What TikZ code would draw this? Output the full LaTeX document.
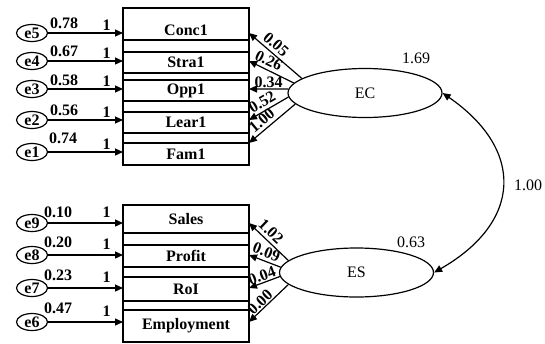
\documentclass[tikz,border=0pt]{standalone}
\usepackage{fontspec}
\setmainfont{Liberation Serif}
\usepackage{tikz}
\usetikzlibrary{fit, arrows.meta, shapes.geometric, positioning}
\tikzstyle{indicator} = [rectangle, draw=black, minimum width=126pt, inner sep=0, outer sep=0, font=\fontsize{16}{19}\selectfont\bfseries]
\tikzstyle{frame} = [rectangle, draw=black, inner sep=0, outer sep=0]
\tikzstyle{error} = [ellipse, draw=black, minimum width=31pt, minimum height=17pt, inner sep=0, font=\fontsize{16}{19}\selectfont\bfseries]
\tikzstyle{latent} = [ellipse, draw=black, minimum width=154pt, minimum height=49pt, inner sep=0]
\tikzstyle{regress} = [-{Triangle[length=8pt, width=7pt]}]
\tikzstyle{fixone} = [pos=0.78, above, inner sep=2pt, font=\fontsize{16}{19}\selectfont\bfseries]
\tikzstyle{errvar} = [font=\fontsize{16}{19}\selectfont\bfseries]
\tikzstyle{loading} = [sloped, above, inner sep=3pt, font=\fontsize{16}{19}\selectfont\bfseries]

\begin{document}
\begin{tikzpicture}[x=1pt, y=-1pt, font=\fontsize{16}{19}\selectfont, line width=1.2pt]
				\useasboundingbox (0, 0) rectangle (545, 343);

				% EC indicators
				\node (Conc1) [indicator, minimum height=32pt, text height=23pt, text depth=0pt] at (186, 24) {Conc1};
				\node (Stra1) [indicator, minimum height=21pt] at (186, 62.5) {Stra1};
				\node (Opp1) [indicator, minimum height=21pt] at (186, 90.5) {Opp1};
				\node (Lear1) [indicator, minimum height=21pt] at (186, 122.5) {Lear1};
				\node (Fam1) [indicator, minimum height=22pt] at (186, 154) {Fam1};
				\node (ECframe) [frame, fit=(Conc1)(Fam1)] {};

				% ES indicators
				\node (Sales) [indicator, minimum height=28pt] at (186, 219) {Sales};
				\node (Profit) [indicator, minimum height=22pt] at (186, 256) {Profit};
				\node (RoI) [indicator, minimum height=24pt] at (186, 289) {RoI};
				\node (Employment) [indicator, minimum height=32pt] at (186, 326) {Employment};
				\node (ESframe) [frame, fit=(Sales)(Employment)] {};

				% error terms
				\node (e5) [error] at (32, 33) {e5};
				\draw [regress] (e5) -- (e5 -| Conc1.west) node (w5) [fixone] {1};
				\node (v5) [errvar] at (64, 23) {0.78};

				\node (e4) [error] at (32, 61) {e4};
				\draw [regress] (e4) -- (e4 -| Stra1.west) node (w4) [fixone] {1};
				\node (v4) [errvar] at (64, 51) {0.67};

				\node (e3) [error] at (32, 89) {e3};
				\draw [regress] (e3) -- (e3 -| Opp1.west) node (w3) [fixone] {1};
				\node (v3) [errvar] at (64, 80) {0.58};

				\node (e2) [error] at (32, 120) {e2};
				\draw [regress] (e2) -- (e2 -| Lear1.west) node (w2) [fixone] {1};
				\node (v2) [errvar] at (64, 110) {0.56};

				\node (e1) [error] at (32, 152) {e1};
				\draw [regress] (e1) -- (e1 -| Fam1.west) node (w1) [fixone] {1};
				\node (v1) [errvar] at (63, 138) {0.74};

				\node (e9) [error] at (32, 223) {e9};
				\draw [regress] (e9) -- (e9 -| Sales.west) node (w9) [fixone, yshift=3pt] {1};
				\node (v9) [errvar] at (58, 212) {0.10};

				\node (e8) [error] at (32, 255) {e8};
				\draw [regress] (e8) -- (e8 -| Profit.west) node (w8) [fixone, yshift=3pt] {1};
				\node (v8) [errvar] at (58, 242) {0.20};

				\node (e7) [error] at (32, 288) {e7};
				\draw [regress] (e7) -- (e7 -| RoI.west) node (w7) [fixone, yshift=3pt] {1};
				\node (v7) [errvar] at (58, 275) {0.23};

				\node (e6) [error] at (32, 322) {e6};
				\draw [regress] (e6) -- (e6 -| Employment.west) node (w6) [fixone, yshift=3pt] {1};
				\node (v6) [errvar] at (58, 308) {0.47};

				% latent factors
				\node (EC) [latent] at (365, 93) {EC};
				\node (vEC) at (416, 58) {1.69};
				\node (ES) [latent] at (356.5, 272.5) {ES};
				\node (vES) at (411, 242) {0.63};

				% loadings
				\draw [regress] (EC.167) -- (e5 -| Conc1.east) node (l5) [loading, pos=0.6] {0.05};
				\draw [regress] (EC.172) -- (e4 -| Stra1.east) node (l4) [loading, pos=0.65] {0.26};
				\draw [regress] (EC.177) -- (e3 -| Opp1.east) node (l3) [loading, pos=0.5, inner sep=1pt] {0.34};
				\draw [regress] (EC.183) -- (e2 -| Lear1.east) node (l2) [loading, pos=0.55] {0.52};
				\draw [regress] (EC.189) -- (Fam1.north east) node (l1) [loading, pos=0.6] {1.00};

				\draw [regress] (ES.170) -- (e9 -| Sales.east) node (l9) [loading, pos=0.6] {1.02};
				\draw [regress] (ES.176) -- (e8 -| Profit.east) node (l8) [loading, pos=0.55] {0.09};
				\draw [regress] (ES.183) -- (e7 -| RoI.east) node (l7) [loading, pos=0.5, inner sep=1pt] {0.04};
				\draw [regress] (ES.190) -- (e6 -| Employment.east) node (l6) [loading, pos=0.6, inner sep=1pt] {0.00};

				% covariance
				\draw [{Triangle[length=8pt, width=7pt]}-{Triangle[length=8pt, width=7pt]}] (EC.east) .. controls (525, 150) and (522, 222) .. (ES.east);
				\node (cov) at (528, 185) {1.00};
			\end{tikzpicture}
\end{document}
